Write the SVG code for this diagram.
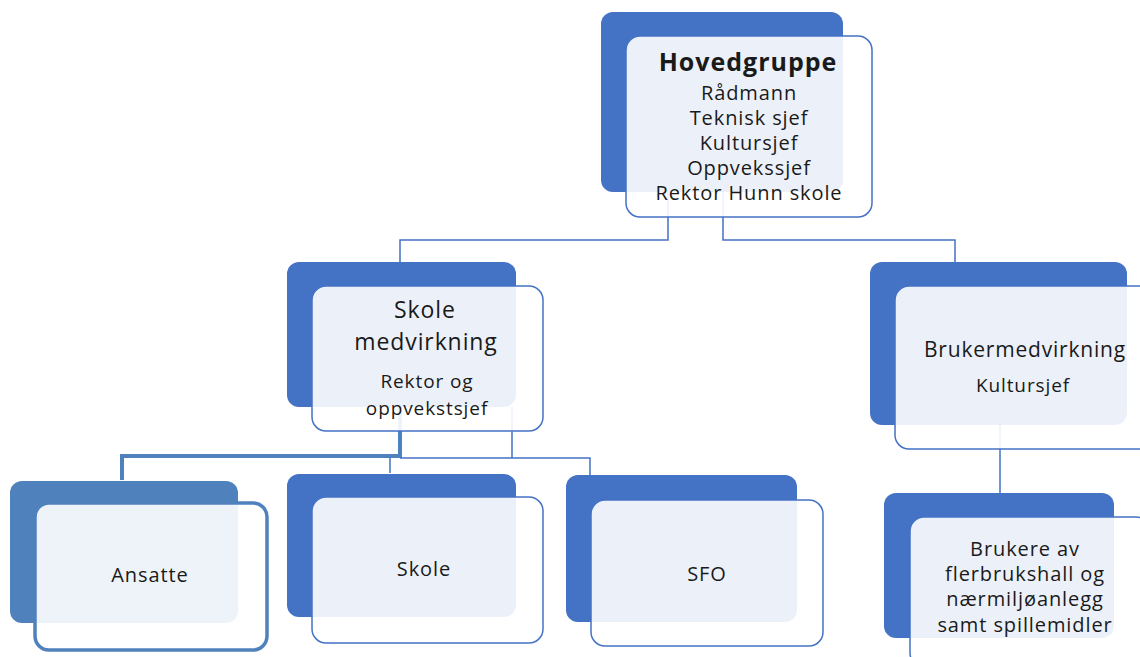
<svg xmlns="http://www.w3.org/2000/svg" width="1140" height="657" viewBox="0 0 1140 657">
<style>
.back{fill:#4472C4}
.front{fill:#FFFFFF;fill-opacity:0.9;stroke:#4472C4;stroke-width:1.5}
.backA{fill:#4F81BD}
.frontA{fill:#FFFFFF;fill-opacity:0.9;stroke:#4F81BD;stroke-width:3.5}
.c{stroke:#4472C4;stroke-width:1.5;fill:none}
.cA{stroke:#4F81BD;stroke-width:4;fill:none}
text{font-family:"Open Sans","Liberation Sans",sans-serif;fill:#1a1a1a;text-anchor:middle}
.t{font-size:20px;letter-spacing:0.9px}
.h{font-size:23px;letter-spacing:0.9px}
.b{font-size:25px;font-weight:bold;letter-spacing:1px}
</style>
<rect width="1140" height="657" fill="#FFFFFF"/>
<g id="connectors">
<path class="c" d="M668 192V240H400V262M723 192V240H955V262"/>
<path class="cA" d="M400 407V456H122V480"/>
<path class="c" d="M400 458H590V475M390 458V473M512 407V458"/>
<path class="c" d="M1000 425V493"/>
</g>
<g id="hovedgruppe">
<rect class="back" x="601" y="12" width="242" height="180" rx="12"/>
<rect class="front" x="626" y="36" width="246" height="181" rx="14"/>
<text class="b" x="748" y="71">Hovedgruppe</text>
<text class="t" x="749" y="100">Rådmann</text>
<text class="t" x="749" y="125">Teknisk sjef</text>
<text class="t" x="749" y="150">Kultursjef</text>
<text class="t" x="749" y="175">Oppvekssjef</text>
<text class="t" x="749" y="200">Rektor Hunn skole</text>
</g>
<g id="skolemedvirkning">
<rect class="back" x="287" y="262" width="229" height="145" rx="12"/>
<rect class="front" x="312" y="286" width="231" height="145" rx="14"/>
<text class="h" x="425" y="318">Skole</text>
<text class="h" x="426" y="350">medvirkning</text>
<text class="t" x="427" y="388" style="font-size:19px">Rektor og</text>
<text class="t" x="427" y="415" style="font-size:19px">oppvekstsjef</text>
</g>
<g id="brukermedvirkning">
<rect class="back" x="870" y="262" width="257" height="163" rx="12"/>
<rect class="front" x="895" y="286" width="260" height="163" rx="14"/>
<text class="t" x="1025" y="357" style="font-size:21px;letter-spacing:0.8px">Brukermedvirkning</text>
<text class="t" x="1023" y="392" style="font-size:19px">Kultursjef</text>
</g>
<g id="ansatte">
<rect class="backA" x="10" y="481" width="228" height="142" rx="12"/>
<rect class="frontA" x="35" y="503" width="232" height="147" rx="14"/>
<text class="t" x="150" y="582">Ansatte</text>
</g>
<g id="skole">
<rect class="back" x="287" y="474" width="229" height="143" rx="12"/>
<rect class="front" x="312" y="497" width="231" height="146" rx="14"/>
<text class="t" x="424" y="576">Skole</text>
</g>
<g id="sfo">
<rect class="back" x="566" y="475" width="231" height="147" rx="12"/>
<rect class="front" x="591" y="500" width="232" height="146" rx="14"/>
<text class="t" x="707" y="581">SFO</text>
</g>
<g id="brukere">
<rect class="back" x="884" y="493" width="230" height="145" rx="12"/>
<rect class="front" x="910" y="517" width="240" height="150" rx="14"/>
<text class="t" x="1025" y="556">Brukere av</text>
<text class="t" x="1025" y="581">flerbrukshall og</text>
<text class="t" x="1025" y="606">nærmiljøanlegg</text>
<text class="t" x="1025" y="632">samt spillemidler</text>
</g>
</svg>
